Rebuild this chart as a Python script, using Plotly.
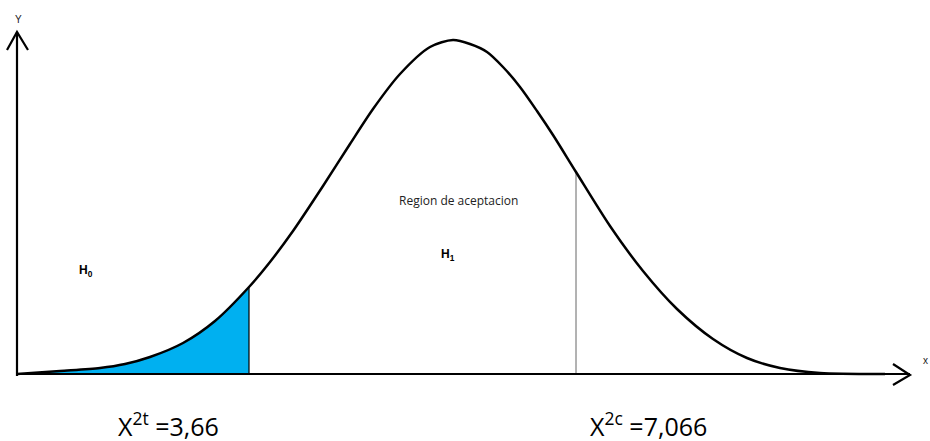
import plotly.graph_objects as go

# curve (horizontal position, height above the x axis)
curve_x = [17, 60, 100, 125, 150, 183, 215, 249, 270, 293, 323, 350, 373, 400, 430, 453,
           470, 487, 503, 520, 537, 553, 576, 610, 643, 677, 713, 747, 780, 820, 885]
curve_y = [0, 3, 6, 10, 17, 31, 53, 87, 112, 143, 188, 230, 265, 300, 327, 334,
           330, 322, 307, 287, 263, 239, 202, 148, 103, 65, 35, 16, 6, 1, 0]

crit_t = 249   # X^2 tabla
crit_c = 576   # X^2 calculado
axis_x_end = 910
axis_y_end = 342

labels = ["Y", "x", "H<sub>0</sub>", "Region de aceptacion", "H<sub>1</sub>",
          "X<sup>2t</sup> =3,66", "X<sup>2c</sup> =7,066"]

h_t = curve_y[curve_x.index(crit_t)]
h_c = curve_y[curve_x.index(crit_c)]
fill_x = [v for v in curve_x if v <= crit_t]
fill_y = curve_y[:len(fill_x)]

fig = go.Figure()

# shaded tail
fig.add_trace(go.Scatter(x=fill_x, y=fill_y, fill='tozeroy',
                         fillcolor='#00b0f0', mode='lines',
                         line=dict(width=0, shape='spline', smoothing=0.8),
                         hoverinfo='skip'))
fig.add_trace(go.Scatter(x=[crit_t, crit_t], y=[0, h_t], mode='lines',
                         line=dict(color='black', width=1.2)))
fig.add_trace(go.Scatter(x=[crit_c, crit_c], y=[0, h_c], mode='lines',
                         line=dict(color='#666666', width=1)))

# bell curve
fig.add_trace(go.Scatter(x=curve_x, y=curve_y, mode='lines',
                         line=dict(color='black', width=2.5, shape='spline', smoothing=0.8)))

# axes with open arrow heads
fig.add_trace(go.Scatter(x=[17, axis_x_end], y=[0, 0], mode='lines',
                         line=dict(color='black', width=2.2)))
fig.add_trace(go.Scatter(x=[17, 17], y=[-2, axis_y_end], mode='lines',
                         line=dict(color='black', width=2.2)))
fig.add_trace(go.Scatter(x=[axis_x_end - 17, axis_x_end, axis_x_end - 17],
                         y=[10, -1, -11], mode='lines',
                         line=dict(color='black', width=2.2)))
fig.add_trace(go.Scatter(x=[7, 17, 28], y=[axis_y_end - 18, axis_y_end, axis_y_end - 18],
                         mode='lines', line=dict(color='black', width=2.2)))

def note(x, y, text, family, size, color='black'):
    fig.add_annotation(x=x, y=y, text=text, showarrow=False, xref='x', yref='y',
                       font=dict(family=family, size=size, color=color))

note(18, 355, labels[0], 'Liberation Sans', 10, '#222')
note(925, 14, labels[1], 'Liberation Sans', 10, '#222')
note(86, 103, '<b>' + labels[2] + '</b>', 'Liberation Sans', 12)
note(458, 174, labels[3], 'Open Sans', 12, '#222')
note(448, 119, '<b>' + labels[4] + '</b>', 'Liberation Sans', 12)
note(168, -50, labels[5], 'Open Sans', 25)
note(648, -50, labels[6], 'Open Sans', 25)

fig.update_layout(width=930, height=441, margin=dict(l=0, r=0, t=0, b=0),
                  plot_bgcolor='white', paper_bgcolor='white', showlegend=False,
                  xaxis=dict(range=[0, 930], visible=False, fixedrange=True),
                  yaxis=dict(range=[-67, 374], visible=False, fixedrange=True))

fig.write_html("out.html", config={'displayModeBar': False},
               post_script="document.body.style.margin='0';")
